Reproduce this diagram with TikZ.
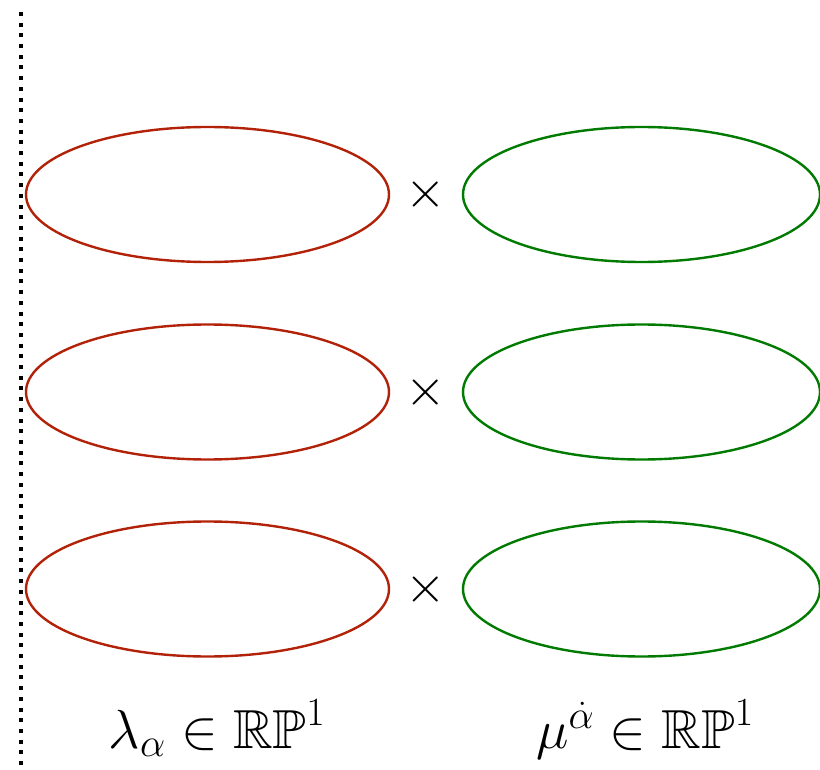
\RequirePackage{fix-cm}
\documentclass[tikz,border=0pt]{standalone}
\usepackage{amssymb}
\usetikzlibrary{shapes.geometric}
\DeclareMathSizes{55}{55}{40}{30}
\DeclareMathSizes{52}{52}{38}{30}
\definecolor{ellred}{RGB}{178,34,8}
\definecolor{ellgreen}{RGB}{0,122,0}
\begin{document}
\begin{tikzpicture}[x=1pt,y=-1pt,
  redell/.style={draw=ellred,line width=2.4pt,ellipse,minimum width=363pt,minimum height=135pt,inner sep=0pt},
  greenell/.style={draw=ellgreen,line width=2.4pt,ellipse,minimum width=357pt,minimum height=135pt,inner sep=0pt},
  crosslbl/.style={inner sep=0pt,font=\fontsize{52}{60}\selectfont},
  mathlbl/.style={inner sep=0pt,anchor=base,font=\fontsize{55}{64}\selectfont}]
\useasboundingbox (0,0) rectangle (820,770);
\coordinate (dtop) at (21,12);
\coordinate (dbot) at (21,775);
\draw[line width=4pt,dash pattern=on 4pt off 6.7pt] (dtop) -- (dbot);
\foreach \i/\y in {1/194.5,2/392,3/589}{
  \node[redell] (r\i) at (207.5,\y) {};
  \node[greenell] (g\i) at (641.5,\y) {};
  \node[crosslbl] (x\i) at (426,\y) {$\times$};
}
\node[mathlbl] (lab1) at (217,748) {$\lambda_\alpha\in\mathbb{RP}^1$};
\node[mathlbl] (lab2) at (645,748) {$\mu^{\dot\alpha}\in\mathbb{RP}^1$};
\end{tikzpicture}
\end{document}
